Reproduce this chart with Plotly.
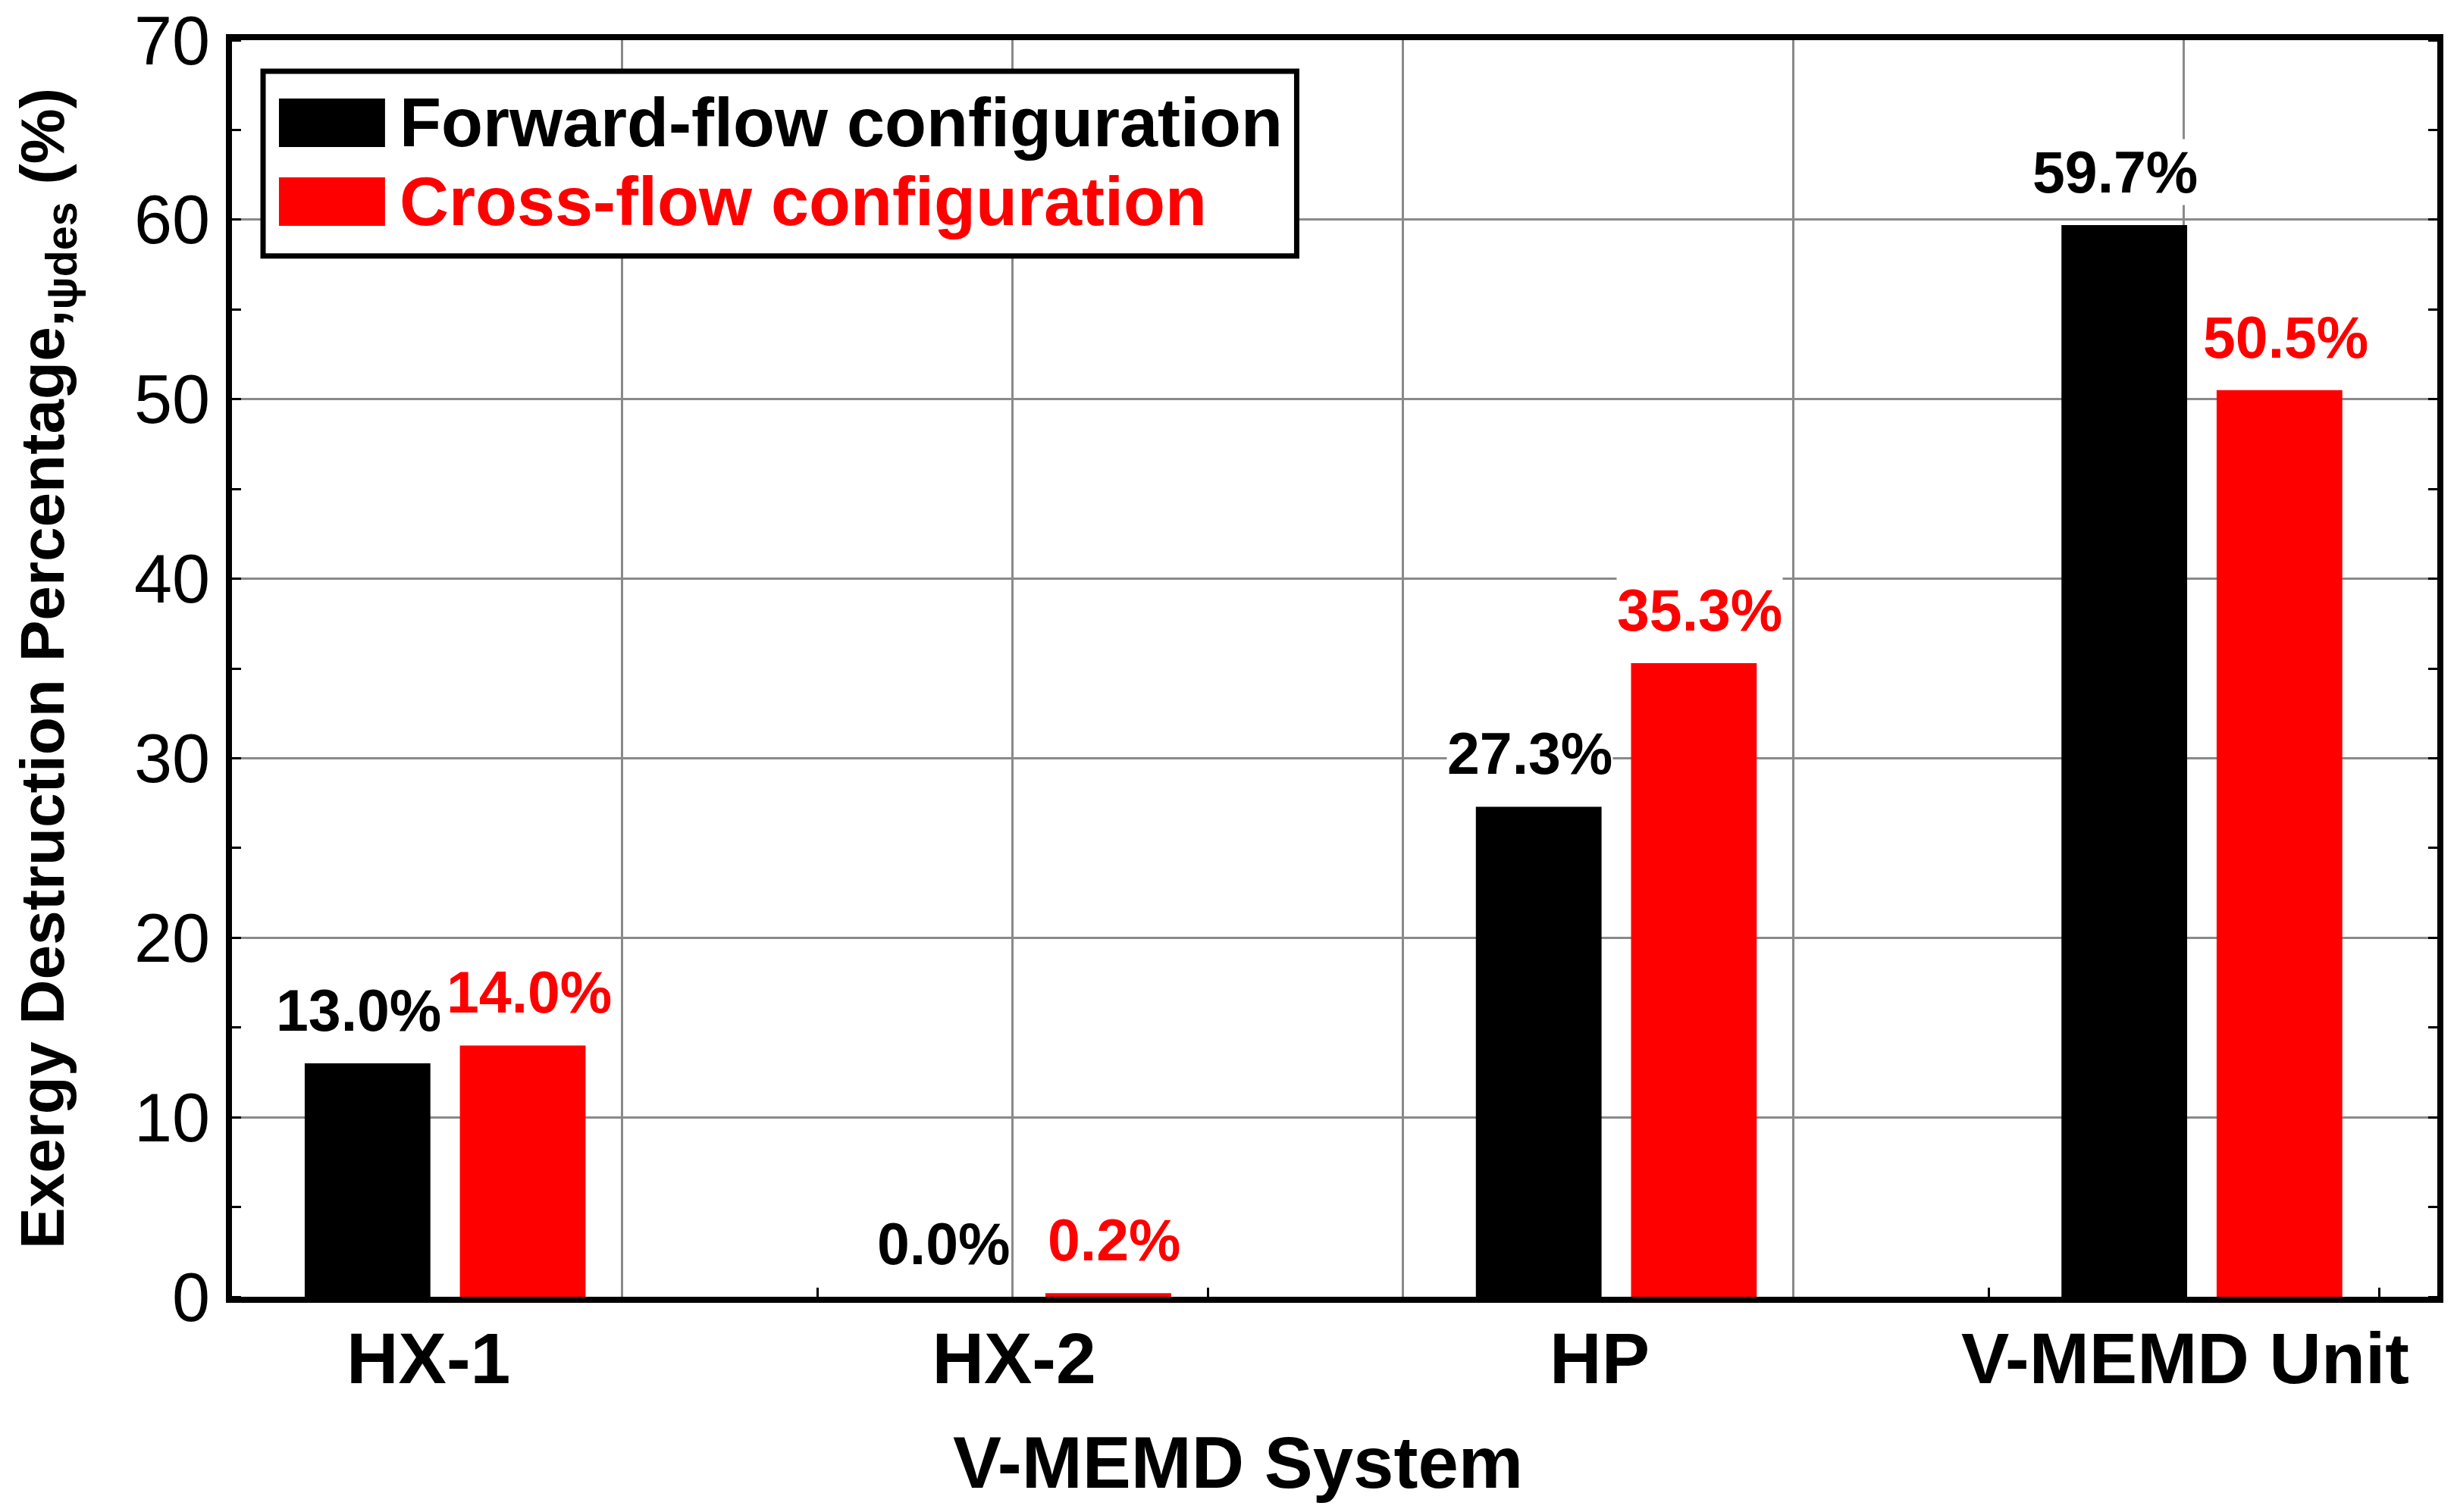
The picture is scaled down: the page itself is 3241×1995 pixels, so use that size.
import plotly.graph_objects as go

# ---- data ----
categories = ["HX-1", "HX-2", "HP", "V-MEMD Unit"]
forward_flow = [13.0, 0.0, 27.3, 59.7]
cross_flow = [14.0, 0.2, 35.3, 50.5]
series_names = ["Forward-flow configuration", "Cross-flow configuration"]
series_values = [forward_flow, cross_flow]
series_colors = ["#000000", "#FF0000"]
y_tick_values = [0, 10, 20, 30, 40, 50, 60, 70]

FONT = "Liberation Sans, Arial, sans-serif"
W, H = 3241, 1995
ML, MR, MT, MB = 306, 26, 53, 284
BARGAP = 0.47
BARGROUPGAP = 0.19
XRANGE = [-0.364, 3.402]
GRID = "#8a8a8a"
LABEL_XSHIFT = [-12, 8]   # fine horizontal nudge of value labels per series

fig = go.Figure()
for name, vals, col in zip(series_names, series_values, series_colors):
    fig.add_trace(go.Bar(
        x=categories, y=vals, name=name,
        marker=dict(color=col, line=dict(width=0)),
        showlegend=False, cliponaxis=False,
    ))
# empty helper trace so the secondary (grid) x axis gets drawn
fig.add_trace(go.Scatter(x=[None], y=[None], xaxis="x2", yaxis="y",
                         showlegend=False, hoverinfo="skip"))

# value labels (white background interrupts grid lines as in the original)
px_per_cat = (W - ML - MR) / (XRANGE[1] - XRANGE[0])
slot = (1 - BARGAP) / 2 * px_per_cat
annotations = []
for s, (vals, col) in enumerate(zip(series_values, series_colors)):
    shift = (s - 0.5) * slot + LABEL_XSHIFT[s]
    for cat, v in zip(categories, vals):
        annotations.append(dict(
            x=cat, y=v, xref="x", yref="y", xshift=shift, yshift=26,
            text=f"{v:.1f}%", showarrow=False, yanchor="bottom",
            font=dict(family=FONT, size=77, color=col, weight="bold"),
            bgcolor="white", borderpad=0,
        ))

# x-axis title (as annotation, slightly left of centre like the original)
annotations.append(dict(
    x=0.456, y=-0.132, xref="paper", yref="paper", text="V-MEMD System",
    showarrow=False, xanchor="center", yanchor="middle",
    font=dict(family=FONT, size=96, color="black", weight="bold"),
))

# legend (custom, large swatches)
leg_x_text = 0.0752
leg_rows_y = [0.9343, 0.8716]
swatch_half = 0.0193
shapes = [dict(type="rect", xref="paper", yref="paper",
               x0=0.0141, x1=0.4828, y0=0.8282, y1=0.9753,
               line=dict(color="black", width=7), fillcolor="white", layer="above")]
for name, col, yy in zip(series_names, series_colors, leg_rows_y):
    shapes.append(dict(type="rect", xref="paper", yref="paper",
                       x0=0.0213, x1=0.0694, y0=yy - swatch_half, y1=yy + swatch_half,
                       line=dict(width=0), fillcolor=col, layer="above"))
    annotations.append(dict(
        x=leg_x_text, y=yy, xref="paper", yref="paper", text=name,
        showarrow=False, xanchor="left", yanchor="middle",
        font=dict(family=FONT, size=90, color=col, weight="bold"),
    ))

fig.update_layout(
    width=W, height=H,
    margin=dict(l=ML, r=MR, t=MT, b=MB, autoexpand=False),
    paper_bgcolor="white", plot_bgcolor="white",
    barmode="group", bargap=BARGAP, bargroupgap=BARGROUPGAP,
    font=dict(family=FONT, color="black"),
    xaxis=dict(
        type="category", range=XRANGE, showgrid=False, ticks="",
        showline=True, linecolor="black", linewidth=8, mirror=True,
        zeroline=False, automargin=False,
        tickfont=dict(family=FONT, size=95, color="black", weight="bold"),
        ticklabelstandoff=-8, ticklabelshift=-22,
    ),
    xaxis2=dict(
        overlaying="x", anchor="y", side="bottom", automargin=False,
        range=[0, (XRANGE[1] - XRANGE[0]) * 1.5], tick0=0, dtick=1,
        showgrid=True, gridcolor=GRID, gridwidth=3,
        ticks="", showticklabels=False, showline=False, zeroline=False,
        mirror="allticks",
        minor=dict(dtick=0.5, tick0=0, ticks="inside", ticklen=12,
                   tickwidth=3, tickcolor="black", showgrid=False),
    ),
    yaxis=dict(
        range=[0, 70], tickvals=y_tick_values, automargin=False,
        showgrid=True, gridcolor=GRID, gridwidth=3,
        ticks="", showline=True, linecolor="black", linewidth=8,
        mirror="allticks", zeroline=False,
        minor=dict(dtick=5, tick0=0, ticks="inside", ticklen=12,
                   tickwidth=3, tickcolor="black", showgrid=False),
        tickfont=dict(family=FONT, size=90, color="black"),
        ticklabelstandoff=3,
        title=dict(text="Exergy Destruction Percentage,<sub>ψdes</sub> (%)", standoff=68,
                   font=dict(family=FONT, size=82, color="black", weight="bold")),
    ),
    annotations=annotations,
    shapes=shapes,
)

fig.write_html("out.html", config={"displayModeBar": False},
               post_script="document.body.style.margin='0px';")
